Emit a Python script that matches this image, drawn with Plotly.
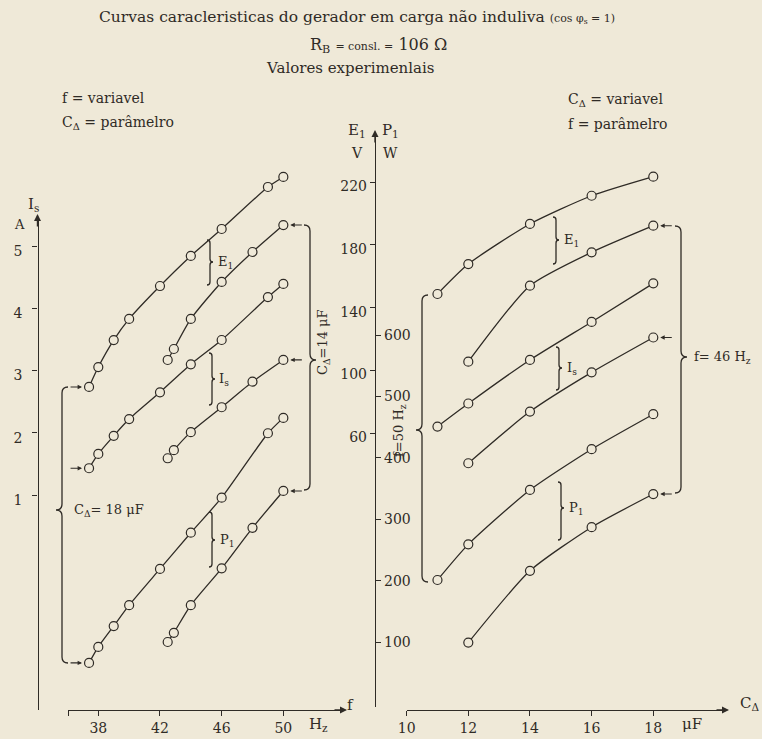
import plotly.graph_objects as go

W, H = 762, 739
BG = "#efe9d8"
INK = "#2f2b26"
FONT = "DejaVu Serif"

# ---------------- data ----------------
# Left panel: f variable, C_delta parameter
f_c18 = [37.4, 38.0, 39.0, 40.0, 42.0, 44.0, 46.0, 49.0, 50.0]
E1_c18 = [89.4, 102.1, 119.3, 132.8, 153.8, 173.0, 190.2, 217.0, 223.4]
Is_c18 = [1.43, 1.66, 1.95, 2.22, 2.65, 3.10, 3.49, 4.18, 4.39]
P1_c18 = [66, 92, 126, 160, 219, 278, 335, 440, 465]

f_c14 = [42.5, 42.9, 44.0, 46.0, 48.0, 50.0]
E1_c14 = [106.6, 113.6, 132.8, 156.4, 175.5, 192.7]
Is_c14 = [1.59, 1.72, 2.01, 2.41, 2.82, 3.17]
P1_c14 = [100, 115, 160, 220, 286, 346]

# Right panel: C_delta variable, f parameter
C_f50 = [11, 12, 14, 16, 18]
E1_f50 = [148.7, 167.8, 193.4, 211.4, 223.6]
Is_f50 = [2.10, 2.47, 3.17, 3.78, 4.40]
P1_f50 = [201, 259, 347.6, 414, 471]

C_f46 = [12, 14, 16, 18]
E1_f46 = [105.5, 154.0, 175.3, 192.3]
Is_f46 = [1.51, 2.34, 2.97, 3.53]
P1_f46 = [99, 216, 287, 341]

f_ticks = [38, 42, 46, 50]
C_ticks = [10, 12, 14, 16, 18]
Is_ticks = [1, 2, 3, 4, 5]
E1_ticks = [60, 100, 140, 180, 220]
P1_ticks = [100, 200, 300, 400, 500, 600]


def px(x):
    return x / W


def py(y):
    return 1 - y / H


# ---------------- axis geometry ----------------
f_dom = (68, 343); f_ref, f_at, f_scale = 38, 98.3, 15.42
C_dom = (406.6, 725); C_ref, C_at, C_scale = 12, 468.3, 30.83
I_dom = (217, 710); I_ref, I_at, I_scale = 5, 246, 62.25
V_dom = (133, 707); V_ref, V_at, V_scale = 60, 433, 1.567
P_ref, P_at, P_scale = 600, 335, 0.614

f_range = [f_ref + (f_dom[0] - f_at) / f_scale, f_ref + (f_dom[1] - f_at) / f_scale]
C_range = [C_ref + (C_dom[0] - C_at) / C_scale, C_ref + (C_dom[1] - C_at) / C_scale]
I_range = [I_ref - (I_dom[1] - I_at) / I_scale, I_ref - (I_dom[0] - I_at) / I_scale]
V_range = [V_ref - (V_dom[1] - V_at) / V_scale, V_ref - (V_dom[0] - V_at) / V_scale]
P_range = [P_ref - (V_dom[1] - P_at) / P_scale, P_ref - (V_dom[0] - P_at) / P_scale]

fig = go.Figure()

marker = dict(symbol="circle", size=9, color=BG, line=dict(color=INK, width=1.2))
line = dict(color=INK, width=1.3, shape="spline", smoothing=0.6)

series = [
    (f_c18, E1_c18, "x", "y2"), (f_c14, E1_c14, "x", "y2"),
    (f_c18, Is_c18, "x", "y"), (f_c14, Is_c14, "x", "y"),
    (f_c18, P1_c18, "x", "y3"), (f_c14, P1_c14, "x", "y3"),
    (C_f50, E1_f50, "x2", "y2"), (C_f46, E1_f46, "x2", "y2"),
    (C_f50, Is_f50, "x2", "y"), (C_f46, Is_f46, "x2", "y"),
    (C_f50, P1_f50, "x2", "y3"), (C_f46, P1_f46, "x2", "y3"),
]
for xs, ys, xa, ya in series:
    fig.add_trace(go.Scatter(x=xs, y=ys, xaxis=xa, yaxis=ya, mode="lines+markers",
                             line=line, marker=marker, cliponaxis=False,
                             hoverinfo="skip", showlegend=False))

axis_common = dict(showgrid=False, zeroline=False, showline=True, linecolor=INK,
                   linewidth=1.4, ticks="outside", tickcolor=INK, ticklen=5,
                   tickwidth=1.2, tickfont=dict(family=FONT, size=14, color=INK),
                   fixedrange=True, anchor="free", automargin=False)

fig.update_layout(
    width=W, height=H, autosize=False,
    margin=dict(l=0, r=0, t=0, b=0, pad=0, autoexpand=False),
    paper_bgcolor=BG, plot_bgcolor="rgba(0,0,0,0)",
    showlegend=False,
    xaxis=dict(axis_common, domain=[px(f_dom[0]), px(f_dom[1])], range=f_range,
               position=py(710), tickvals=[f_range[0]] + f_ticks,
               ticktext=[""] + [str(t) for t in f_ticks]),
    xaxis2=dict(axis_common, domain=[px(C_dom[0]), px(C_dom[1])], range=C_range,
                position=py(710), tickvals=C_ticks, ticktext=[str(t) for t in C_ticks]),
    yaxis=dict(axis_common, domain=[py(I_dom[1]), py(I_dom[0])], range=I_range,
               position=px(37.5), side="left", tickvals=Is_ticks,
               ticklabelstandoff=7, ticklabelshift=5),
    yaxis2=dict(axis_common, domain=[py(V_dom[1]), py(V_dom[0])], range=V_range,
                position=px(375), side="left", tickvals=E1_ticks,
                ticklabelshift=4),
    yaxis3=dict(axis_common, domain=[py(V_dom[1]), py(V_dom[0])], range=P_range,
                position=px(375), side="right", tickvals=P1_ticks),
)

ann = []


def text(x, y, s, size=14, xanchor="center", angle=0):
    ann.append(dict(x=px(x), y=py(y), xref="paper", yref="paper", text=s,
                    showarrow=False, xanchor=xanchor, yanchor="middle",
                    textangle=angle, font=dict(family=FONT, size=size, color=INK)))


def axis_arrow(x, y, ax, ay):
    ann.append(dict(x=px(x), y=py(y), xref="paper", yref="paper", text="",
                    showarrow=True, arrowhead=2, arrowsize=1, arrowwidth=1.4,
                    arrowcolor=INK, ax=ax, ay=ay))


def point_arrow(xv, yv, xa, ya, ax):
    ann.append(dict(x=xv, y=yv, xref=xa, yref=ya, text="", showarrow=True,
                    arrowhead=2, arrowsize=0.8, arrowwidth=1.1, arrowcolor=INK,
                    ax=ax, ay=0, standoff=7))


# header texts
text(357, 17, "Curvas caracleristicas do gerador em carga não induliva "
     "<span style='font-size:11px'>(cos φ<sub>s</sub> = 1)</span>", size=15.5)
text(378, 46, "R<sub>B</sub> <span style='font-size:11px'>= consl. =</span> 106 Ω", size=16)
text(350, 68, "Valores experimenlais", size=15)
text(60, 98, "f = variavel", size=14, xanchor="left")
text(60, 123, "C<sub>Δ</sub> = parâmelro", size=14, xanchor="left")
text(566, 100, "C<sub>Δ</sub> = variavel", size=14, xanchor="left")
text(566, 124, "f = parâmelro", size=14, xanchor="left")

# axis titles
text(357, 130, "E<sub>1</sub>", size=15)
text(357, 153, "V", size=14)
text(390, 130, "P<sub>1</sub>", size=15)
text(390, 153, "W", size=14)
text(33, 205, "I<sub>s</sub>", size=15)
text(19, 224, "A", size=13)
text(350, 705, "f", size=15)
text(318, 724, "H<sub>z</sub>", size=15)
text(749, 703, "C<sub>Δ</sub>", size=15)
text(692, 724, "μF", size=15)

# curve labels
text(216, 262, "E<sub>1</sub>", size=13, xanchor="left")
text(217, 379, "I<sub>s</sub>", size=13, xanchor="left")
text(218, 540, "P<sub>1</sub>", size=13, xanchor="left")
text(562, 240, "E<sub>1</sub>", size=13, xanchor="left")
text(565, 368, "I<sub>s</sub>", size=13, xanchor="left")
text(567, 508, "P<sub>1</sub>", size=13, xanchor="left")

# parameter labels
text(324, 342, "C<sub>Δ</sub>=14 μF", size=13, angle=-90)
text(72, 510, "C<sub>Δ</sub>= 18 μF", size=13, xanchor="left")
text(399, 430, "f=50 H<sub>z</sub>", size=13, angle=-90)
text(692, 357, "f= 46 H<sub>z</sub>", size=13, xanchor="left")

# axis arrowheads
axis_arrow(347, 710, -14, 0)
axis_arrow(729, 710, -14, 0)
axis_arrow(37.5, 214, 0, 14)
axis_arrow(375, 130, 0, 14)

# arrows pointing to curve ends
point_arrow(f_c14[-1], E1_c14[-1], "x", "y2", 20)
point_arrow(f_c14[-1], Is_c14[-1], "x", "y", 20)
point_arrow(f_c14[-1], P1_c14[-1], "x", "y3", 20)
point_arrow(f_c18[0], E1_c18[0], "x", "y2", -20)
point_arrow(f_c18[0], Is_c18[0], "x", "y", -20)
point_arrow(f_c18[0], P1_c18[0], "x", "y3", -20)
point_arrow(C_f46[-1], E1_f46[-1], "x2", "y2", 20)
point_arrow(C_f46[-1], Is_f46[-1], "x2", "y", 20)
point_arrow(C_f46[-1], P1_f46[-1], "x2", "y3", 20)

fig.update_layout(annotations=ann)


# braces
def brace(x, y0, y1, ym, w):
    h = min(abs(w), (y1 - y0) / 4)
    pts = [("M", [(x, y0)]),
           ("Q", [(x + w, y0), (x + w, y0 + h)]),
           ("L", [(x + w, ym - h)]),
           ("Q", [(x + w, ym), (x + 2 * w, ym)]),
           ("Q", [(x + w, ym), (x + w, ym + h)]),
           ("L", [(x + w, y1 - h)]),
           ("Q", [(x + w, y1), (x, y1)])]
    path = " ".join(c + " " + " ".join(f"{px(a):.5f},{py(b):.5f}" for a, b in p)
                    for c, p in pts)
    return dict(type="path", path=path, xref="paper", yref="paper",
                line=dict(color=INK, width=1.3))


shapes = [
    brace(304, 225, 490, 360, 6),
    brace(68, 387, 663, 510, -6),
    brace(428, 295, 582, 430, -6),
    brace(675, 226, 493, 357, 6),
    brace(207, 240, 285, 262, 3),
    brace(209, 353, 405, 379, 3),
    brace(209, 512, 567, 540, 3),
    brace(553, 217, 264, 240, 3),
    brace(556, 347, 390, 368, 3),
    brace(558, 482, 540, 508, 3),
]
fig.update_layout(shapes=shapes)

fig.write_html("out.html", config={"responsive": False, "displayModeBar": False},
               post_script="document.body.style.margin='0';"
                           "document.body.style.overflow='hidden';"
                           "document.body.style.background='" + BG + "';")
